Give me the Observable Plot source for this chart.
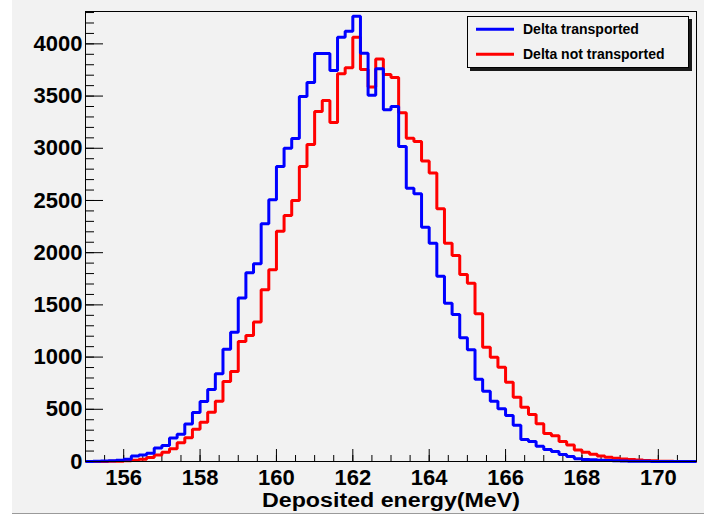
<!DOCTYPE html>
<html>
<head>
<meta charset="utf-8">
<script src="https://cdn.jsdelivr.net/npm/d3@7"></script>
<script src="https://cdn.jsdelivr.net/npm/@observablehq/plot@0.6"></script>
<style>
  html, body { margin: 0; padding: 0; background: #ffffff; }
  #wrap { position: relative; width: 704px; height: 517px; overflow: hidden; }
  #bg { position: absolute; left: 12px; top: 0; width: 692px; height: 513px; background: #f2f2f2; border-bottom: 1px solid #9a9a9a; }
  #chart { position: absolute; left: 0; top: 0; }
  #legend { position: absolute; left: 466px; top: 15px; }
  text { font-family: "Liberation Sans", Arial, Helvetica, sans-serif; }
</style>
</head>
<body>
<div id="wrap">
  <div id="bg"></div>
  <div id="chart"></div>
  <svg id="legend" width="232" height="62"></svg>
</div>
<script>
// ---- data ----
const binStart = 155;
const binWidth = 0.2;
const nBins = 80;

const seriesNames = ["Delta transported", "Delta not transported"];
const seriesColors = ["#0000ff", "#ff0000"];

// counts per 0.2 MeV bin, from 155.0 to 171.0
const blueCounts = [
  1, 2, 4, 7, 12, 22, 52, 62, 80, 130,
  153, 225, 260, 358, 470, 575, 690, 840, 1076, 1239,
  1565, 1807, 1893, 2277, 2507, 2826, 3001, 3094, 3496, 3630,
  3908, 3908, 3745, 4064, 4122, 4265, 3911, 3509, 3761, 3369,
  3400, 3017, 2618, 2564, 2244, 2091, 1775, 1516, 1408, 1185,
  1070, 788, 673, 578, 505, 441, 348, 210, 192, 146,
  115, 95, 66, 49, 27, 20, 17, 13, 10, 6,
  4, 3, 2, 2, 1, 1, 1, 0, 0, 0
];
const redCounts = [
  0, 1, 1, 2, 3, 6, 12, 22, 38, 62,
  89, 121, 180, 227, 310, 375, 471, 577, 766, 862,
  1149, 1207, 1335, 1644, 1836, 2206, 2356, 2500, 2826, 3036,
  3352, 3458, 3247, 3713, 3771, 4064, 3755, 3586, 3854, 3707,
  3678, 3340, 3097, 3065, 2877, 2762, 2420, 2091, 1973, 1791,
  1708, 1415, 1095, 999, 903, 760, 616, 520, 450, 362,
  268, 247, 192, 158, 110, 89, 69, 53, 40, 31,
  24, 19, 14, 10, 6, 3, 2, 1, 1, 1
];

const xMajor = [156, 158, 160, 162, 164, 166, 168, 170];
const xMinor = d3.range(155, 171.01, 0.5);
const yMajor = [0, 500, 1000, 1500, 2000, 2500, 3000, 3500, 4000];
const yMinor = d3.range(0, 4301, 100);
const xTitle = "Deposited energy(MeV)";

// ---- layout ----
const W = 704, H = 517;
const mL = 85, mR = 8, mT = 11, mB = 56;
const innerW = W - mL - mR, innerH = H - mT - mB;
const FONT = '"Liberation Sans", Arial, Helvetica, sans-serif';

const edges = d3.range(nBins + 1).map(i => +(binStart + i * binWidth).toFixed(2));
function steps(vals) {
  const pts = vals.map((v, i) => ({x: edges[i], y: v}));
  pts.push({x: edges[nBins], y: vals[nBins - 1]});
  return pts;
}

const chart = Plot.plot({
  width: W,
  height: H,
  marginLeft: mL,
  marginRight: mR,
  marginTop: mT,
  marginBottom: mB,
  style: {background: "transparent", fontFamily: FONT, fontWeight: "bold", color: "black", overflow: "visible"},
  x: {domain: [155, 171]},
  y: {domain: [0, 4310]},
  marks: [
    Plot.ruleY(yMinor, {y: d => d, insetRight: innerW - 9, stroke: "black", strokeWidth: 1}),
    Plot.ruleY(yMajor, {y: d => d, insetRight: innerW - 18, stroke: "black", strokeWidth: 1}),
    Plot.ruleX(xMinor, {x: d => d, insetTop: innerH - 6, stroke: "black", strokeWidth: 1}),
    Plot.ruleX(xMajor, {x: d => d, insetTop: innerH - 12, stroke: "black", strokeWidth: 1}),
    Plot.axisY({ticks: yMajor, tickSize: 0, tickPadding: 3, fontSize: 22, fontWeight: "bold", tickFormat: d3.format("d"), label: null}),
    Plot.axisX({ticks: xMajor, tickSize: 0, tickPadding: 8, fontSize: 22, fontWeight: "bold", tickFormat: d3.format("d"), label: null}),
    Plot.line(steps(redCounts), {x: "x", y: "y", curve: "step-after", stroke: seriesColors[1], strokeWidth: 3, strokeLinejoin: "miter", strokeLinecap: "butt"}),
    Plot.line(steps(blueCounts), {x: "x", y: "y", curve: "step-after", stroke: seriesColors[0], strokeWidth: 3, strokeLinejoin: "miter", strokeLinecap: "butt"}),
    Plot.frame({stroke: "black", strokeWidth: 1}),
    Plot.text([xTitle], {text: d => d, frameAnchor: "bottom", lineAnchor: "middle", dy: 39.5, fontSize: 20, fontWeight: "bold", fill: "black"})
  ]
});
document.getElementById("chart").appendChild(chart);

// stretch the axis title to match the wide original lettering
d3.select(chart).selectAll("text").filter(function() { return this.textContent === xTitle; })
  .attr("textLength", 258).attr("lengthAdjust", "spacingAndGlyphs");

// ---- legend (inside the frame, top right) ----
const lg = d3.select("#legend");
lg.append("rect").attr("x", 4).attr("y", 4).attr("width", 222).attr("height", 52).attr("fill", "#1a1a1a");
lg.append("rect").attr("x", 1.5).attr("y", 1.5).attr("width", 221).attr("height", 51)
  .attr("fill", "#f2f2f2").attr("stroke", "#000").attr("stroke-width", 1);
seriesNames.forEach((name, i) => {
  const yLine = 14.3 + i * 25;
  lg.append("line").attr("x1", 10).attr("x2", 48).attr("y1", yLine).attr("y2", yLine)
    .attr("stroke", seriesColors[i]).attr("stroke-width", 3);
  lg.append("text").attr("x", 57).attr("y", 19 + i * 25)
    .attr("font-size", 14).attr("font-weight", "bold").attr("fill", "#000").text(name);
});
</script>
</body>
</html>
